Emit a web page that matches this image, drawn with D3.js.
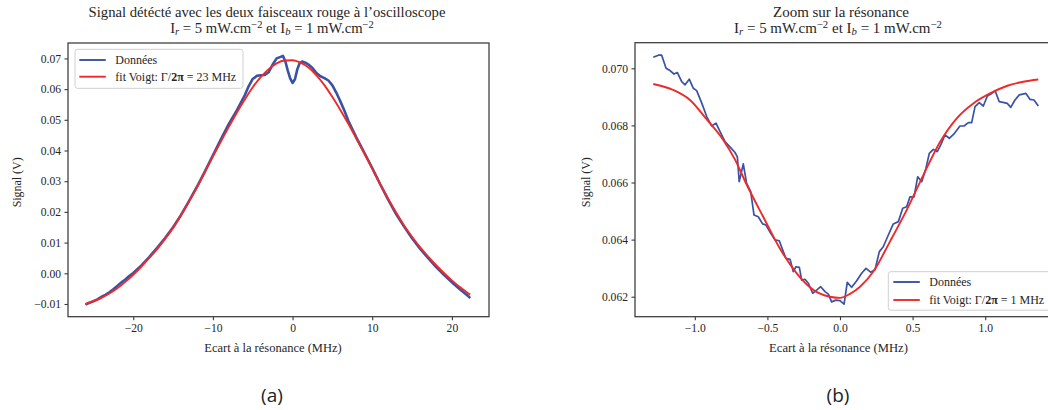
<!DOCTYPE html>
<html><head><meta charset="utf-8">
<script src="https://cdn.jsdelivr.net/npm/d3@7"></script>
<style>
html,body{margin:0;padding:0;background:#fff;}
svg{display:block;}
</style></head><body>
<svg id="c" width="1048" height="410"></svg>
<script>
// ---------- DATA ----------
const leftDataX = [-26,-25.5,-25,-24.5,-24,-23.5,-23,-22.5,-22,-21.5,-21,-20.5,-20,-19,-18,-17,-16,-15,-14,-13,-12,-11,-10,-9,-8,-7,-6,-5.5,-5,-4.5,-4,-3.5,-3,-2.5,-2,-1.5,-1.2,-0.9,-0.6,-0.3,0,0.3,0.6,0.9,1.2,1.6,2,2.5,3,3.5,4,4.5,5,5.5,6,6.5,7,8,9,10,11,12,13,14,15,16,17,18,19,20,21,22,22.3];
const leftDataY = [-0.0102,-0.0096,-0.0091,-0.0085,-0.0077,-0.0070,-0.0062,-0.0052,-0.0041,-0.0030,-0.0020,-0.0009,0.0001,0.0025,0.0053,0.0083,0.0115,0.0150,0.0190,0.0235,0.0282,0.0332,0.0384,0.0436,0.0487,0.0531,0.0580,0.0610,0.0633,0.0643,0.0645,0.0646,0.0655,0.0680,0.0700,0.0705,0.0708,0.0690,0.0660,0.0635,0.0620,0.0632,0.0665,0.0685,0.0690,0.0686,0.0680,0.0669,0.0652,0.0642,0.0636,0.0628,0.0612,0.0588,0.0560,0.0530,0.0497,0.0443,0.0393,0.0343,0.0290,0.0240,0.0193,0.0152,0.0114,0.0080,0.0050,0.0021,-0.0005,-0.0029,-0.0052,-0.0073,-0.0081];
const leftFitX = [-26,-25,-24,-23,-22,-21,-20,-19,-18,-17,-16,-15,-14,-13,-12,-11,-10,-9,-8,-7,-6,-5,-4,-3,-2,-1,0,1,2,3,4,5,6,7,8,9,10,11,12,13,14,15,16,17,18,19,20,21,22,22.3];
const leftFitY = [-0.0100,-0.0091,-0.0080,-0.0066,-0.0049,-0.0028,-0.0005,0.0021,0.0050,0.0079,0.0112,0.0148,0.0189,0.0234,0.0280,0.0330,0.0381,0.0429,0.0477,0.0523,0.0566,0.0606,0.0639,0.0665,0.0684,0.0693,0.0694,0.0686,0.0670,0.0645,0.0613,0.0574,0.0532,0.0487,0.0439,0.0391,0.0341,0.0291,0.0243,0.0198,0.0156,0.0119,0.0085,0.0055,0.0027,0.0001,-0.0023,-0.0045,-0.0064,-0.0069];

const rightDataX = [-1.286,-1.251,-1.228,-1.198,-1.171,-1.143,-1.120,-1.090,-1.067,-1.038,-1.010,-0.987,-0.952,-0.918,-0.884,-0.854,-0.826,-0.792,-0.758,-0.723,-0.707,-0.694,-0.666,-0.643,-0.615,-0.592,-0.563,-0.533,-0.510,-0.477,-0.448,-0.418,-0.395,-0.372,-0.344,-0.322,-0.303,-0.280,-0.264,-0.241,-0.218,-0.188,-0.161,-0.133,-0.103,-0.080,-0.058,-0.028,0.000,0.028,0.050,0.080,0.115,0.149,0.179,0.211,0.241,0.271,0.298,0.333,0.367,0.402,0.432,0.459,0.482,0.510,0.535,0.563,0.592,0.615,0.643,0.670,0.694,0.723,0.753,0.785,0.826,0.854,0.884,0.907,0.930,0.959,0.987,1.015,1.045,1.068,1.097,1.130,1.152,1.176,1.205,1.235,1.281,1.309,1.336,1.366];
const rightDataY = [0.07039,0.07046,0.07046,0.07000,0.06992,0.06980,0.06985,0.06953,0.06942,0.06962,0.06930,0.06922,0.06878,0.06831,0.06798,0.06808,0.06778,0.06743,0.06725,0.06705,0.06690,0.06603,0.06665,0.06597,0.06568,0.06486,0.06480,0.06455,0.06451,0.06422,0.06399,0.06396,0.06364,0.06334,0.06331,0.06288,0.06305,0.06303,0.06258,0.06261,0.06247,0.06212,0.06223,0.06235,0.06218,0.06209,0.06182,0.06188,0.06186,0.06174,0.06250,0.06233,0.06256,0.06282,0.06299,0.06286,0.06294,0.06358,0.06375,0.06416,0.06455,0.06463,0.06510,0.06515,0.06550,0.06550,0.06620,0.06603,0.06650,0.06702,0.06716,0.06708,0.06732,0.06767,0.06755,0.06770,0.06798,0.06798,0.06810,0.06810,0.06866,0.06880,0.06868,0.06903,0.06912,0.06922,0.06883,0.06880,0.06877,0.06863,0.06889,0.06907,0.06912,0.06891,0.06889,0.06868];
const rightFitX = [-1.286,-1.148,-1.033,-0.918,-0.804,-0.723,-0.643,-0.528,-0.413,-0.298,-0.184,-0.069,0.000,0.069,0.138,0.230,0.344,0.459,0.574,0.689,0.804,0.918,1.033,1.148,1.262,1.366];
const rightFitY = [0.06945,0.06924,0.06889,0.06821,0.06749,0.06680,0.06593,0.06479,0.06368,0.06282,0.06224,0.06200,0.06196,0.06210,0.06235,0.06288,0.06393,0.06503,0.06626,0.06742,0.06825,0.06877,0.06912,0.06938,0.06953,0.06961];

const leftXTicks = [-20,-10,0,10,20];
const leftYTicks = [-0.01,0.00,0.01,0.02,0.03,0.04,0.05,0.06,0.07];
const rightXTicks = [-1.0,-0.5,0.0,0.5,1.0];
const rightYTicks = [0.062,0.064,0.066,0.068,0.070];

const leftLegendLabels = ["Données", "fit Voigt: ", "23 MHz"];
const rightLegendLabels = ["Données", "fit Voigt: ", "1 MHz"];

// ---------- STYLE ----------
const SERIF = "'Liberation Serif', 'DejaVu Serif', serif";
const BLUE = "#3a52a3", RED = "#ee2a2a", AXC = "#3a3a3a", TXT = "#262626";
const svg = d3.select("#c");
const minus = s => s.replace(/-/g, "\u2212");

function T(parent, size){
  return parent.append("text").style("font-family", SERIF).style("font-size", size + "px").attr("fill", TXT);
}
function fitWidth(sel, target){
  const w = sel.node().getComputedTextLength();
  const fs = parseFloat(sel.style("font-size"));
  const n = fs*target/w;
  sel.style("font-size", n.toFixed(2) + "px");
  return n;
}

function panel(cfg){
  const x = d3.scaleLinear().domain(cfg.xDom).range([cfg.x0, cfg.x1]);
  const y = d3.scaleLinear().domain(cfg.yDom).range([cfg.y1, cfg.y0]);
  const g = svg.append("g");
  const line = d3.line().x(d=>x(d[0])).y(d=>y(d[1]));
  const data = cfg.dx.map((v,i)=>[v,cfg.dy[i]]);
  const fit = cfg.fx.map((v,i)=>[v,cfg.fy[i]]);
  g.append("path").attr("d", line(data)).attr("fill","none").attr("stroke",BLUE)
    .attr("stroke-width",cfg.dw).attr("stroke-linejoin","round");
  g.append("path").attr("d", line.curve(d3.curveMonotoneX)(fit)).attr("fill","none").attr("stroke",RED)
    .attr("stroke-width",1.9);
  g.append("rect").attr("x",cfg.x0).attr("y",cfg.y0).attr("width",cfg.x1-cfg.x0).attr("height",cfg.y1-cfg.y0)
    .attr("fill","none").attr("stroke",AXC).attr("stroke-width",1.25);
  const ax = g.append("g").attr("transform",`translate(0,${cfg.y1})`)
    .call(d3.axisBottom(x).tickValues(cfg.xt).tickFormat(cfg.xf).tickSize(3.5).tickSizeOuter(0).tickPadding(3.5));
  const ay = g.append("g").attr("transform",`translate(${cfg.x0},0)`)
    .call(d3.axisLeft(y).tickValues(cfg.yt).tickFormat(cfg.yf).tickSize(3.5).tickSizeOuter(0).tickPadding(3.5));
  [ax,ay].forEach(a=>{
    a.attr("font-family", null).attr("font-size", null);
    a.select(".domain").remove();
    a.selectAll(".tick line").attr("stroke",AXC).attr("stroke-width",1.1);
    a.selectAll(".tick text").style("font-family",SERIF).style("font-size","11.6px").attr("fill",TXT);
  });
  // titles
  const t1 = T(svg, 13).attr("x",cfg.t1c).attr("y",16.5).attr("text-anchor","middle").text(cfg.title);
  const tfs = fitWidth(t1, cfg.t1w);
  const t2 = T(svg, tfs).attr("x",cfg.t2c).attr("y",32.5).attr("text-anchor","middle");
  t2.append("tspan").text("I");
  t2.append("tspan").attr("font-style","italic").style("font-size","0.72em").attr("dy",2.5).text("r");
  t2.append("tspan").attr("dy",-2.5).text(" = 5 mW.cm");
  t2.append("tspan").style("font-size","0.72em").attr("dy",-4.5).text("\u22122");
  t2.append("tspan").attr("dy",4.5).text(" et I");
  t2.append("tspan").attr("font-style","italic").style("font-size","0.72em").attr("dy",2.5).text("b");
  t2.append("tspan").attr("dy",-2.5).text(" = 1 mW.cm");
  t2.append("tspan").style("font-size","0.72em").attr("dy",-4.5).text("\u22122");
  // axis labels
  const xl = T(svg, 12).attr("x",cfg.xlc).attr("y",351.5).attr("text-anchor","middle").text("Ecart à la résonance (MHz)");
  fitWidth(xl, cfg.xlw);
  const yl = T(svg, 12).attr("transform",`translate(${cfg.ylx},${(cfg.y0+cfg.y1)/2+2.5}) rotate(-90)`)
    .attr("text-anchor","middle").text("Signal (V)");
  fitWidth(yl, 50);
  // legend
  const L = cfg.leg;
  svg.append("rect").attr("x",L.x).attr("y",L.y).attr("width",L.w).attr("height",L.h).attr("rx",2.5)
    .attr("fill","#fff").attr("fill-opacity",0.85).attr("stroke","#d0d0d0").attr("stroke-width",1);
  [[BLUE, L.r1], [RED, L.r2]].forEach(([c,yy])=>{
    svg.append("line").attr("x1",L.lx).attr("x2",L.lx+26.5).attr("y1",yy).attr("y2",yy).attr("stroke",c).attr("stroke-width",1.9);
  });
  const e1 = T(svg, 12).attr("x",L.lx+36).attr("y",L.r1+4).text(L.labels[0]);
  const efs = fitWidth(e1, 42);
  const e2 = T(svg, efs).attr("x",L.lx+36).attr("y",L.r2+4);
  e2.append("tspan").text(L.labels[1] + "\u0393/");
  e2.append("tspan").attr("font-weight","bold").text("2\u03c0");
  e2.append("tspan").text(" = " + L.labels[2]);
}

panel({
  x0:68, x1:489, y0:43, y1:316.7,
  xDom:[-28.19, 24.66], yDom:[-0.01414, 0.07502],
  dx:leftDataX, dy:leftDataY, fx:leftFitX, fy:leftFitY, dw:2.6,
  xt:leftXTicks, yt:leftYTicks,
  xf:d=>minus(d3.format("d")(d)), yf:d=>minus(d3.format(".2f")(d)),
  title:"Signal détécté avec les deux faisceaux rouge à l\u2019oscilloscope",
  t1c:267, t1w:357, t2c:272, xlc:273, xlw:137.5, ylx:20.5,
  leg:{x:75, y:49.3, w:168, h:39, lx:79.3, r1:60, r2:76.7, labels:leftLegendLabels}
});
panel({
  x0:635, x1:1057, y0:42.7, y1:316.7,
  xDom:[-1.4118, 1.4945], yDom:[0.0612995, 0.070897],
  dx:rightDataX, dy:rightDataY, fx:rightFitX, fy:rightFitY, dw:1.7,
  xt:rightXTicks, yt:rightYTicks,
  xf:d=>minus(d3.format(".1f")(d)), yf:d=>d3.format(".3f")(d),
  title:"Zoom sur la résonance",
  t1c:841, t1w:136, t2c:838, xlc:838.5, xlw:139, ylx:589.5,
  leg:{x:888.3, y:271.7, w:175, h:38.5, lx:893.3, r1:282, r2:300, labels:rightLegendLabels}
});

["(a)","(b)"].forEach((s,i)=>{
  svg.append("text").attr("x",[272,838][i]).attr("y",402).attr("text-anchor","middle")
    .style("font-family","'Open Sans', 'Noto Sans', sans-serif").style("font-size","19px").attr("fill","#222").text(s);
});
</script>
</body></html>
